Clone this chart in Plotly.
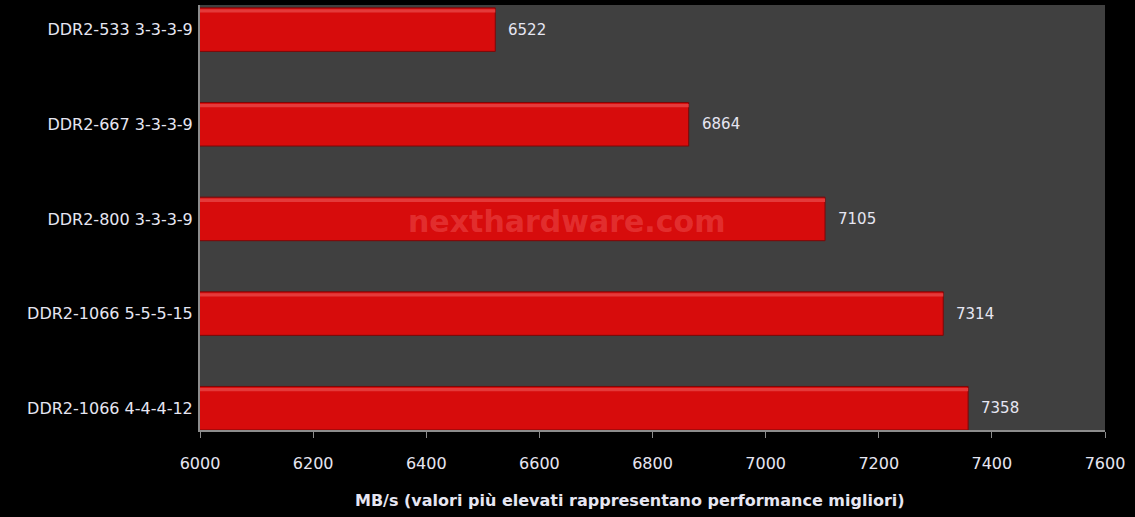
import plotly.graph_objects as go

# Bandbreite DDR2 Speicher (von unten nach oben)
configs = ["DDR2-1066 4-4-4-12", "DDR2-1066 5-5-5-15", "DDR2-800 3-3-3-9",
           "DDR2-667 3-3-3-9", "DDR2-533 3-3-3-9"]
bandwidth = [7358, 7314, 7105, 6864, 6522]
x_ticks = [6000, 6200, 6400, 6600, 6800, 7000, 7200, 7400, 7600]

fig = go.Figure()

# Hauptbalken
fig.add_trace(go.Bar(
    x=bandwidth, y=configs, orientation="h", width=0.46,
    marker=dict(color="#d70c0c", line=dict(color="#7a0808", width=1)),
    hoverinfo="x+y",
))
# heller Streifen oben (3D-Effekt)
fig.add_trace(go.Bar(
    x=bandwidth, y=configs, orientation="h", width=0.035, offset=0.18,
    marker=dict(color="#e43a3a", line=dict(width=0)),
    hoverinfo="skip",
))

# Werte rechts neben den Balken
for v, c in zip(bandwidth, configs):
    fig.add_annotation(x=v, y=c, text=str(v), showarrow=False,
                       xanchor="left", xshift=11,
                       font=dict(family="DejaVu Sans", size=15, color="#e6e6f2"))

# Wasserzeichen
fig.add_annotation(x=0.405, y=0.49, xref="paper", yref="paper",
                   text="<b>nexthardware.com</b>", showarrow=False,
                   font=dict(family="DejaVu Sans", size=30, color="rgba(255,130,130,0.3)"))

# Achsentitel (leicht links versetzt wie im Original)
fig.add_annotation(x=0.475, y=-0.165, xref="paper", yref="paper",
                   text="<b>MB/s (valori più elevati rappresentano performance migliori)</b>",
                   showarrow=False, yanchor="middle",
                   font=dict(family="DejaVu Sans", size=16, color="#e6e6f2"))

fig.update_layout(
    width=1135, height=517,
    margin=dict(l=200, r=30, t=5, b=87),
    paper_bgcolor="black", plot_bgcolor="#404040",
    showlegend=False, barmode="overlay",
    font=dict(family="DejaVu Sans", color="#e6e6f2", size=15),
)
fig.update_xaxes(
    range=[6000, 7600], tickvals=x_ticks, showgrid=False, zeroline=False,
    ticks="outside", ticklen=6, tickcolor="#8c8c8c", ticklabelstandoff=12,
    showline=True, linecolor="#8c8c8c", linewidth=2,
    tickfont=dict(size=16, color="#e6e6f2"),
)
fig.update_yaxes(
    range=[-0.23, 4.26], showgrid=False, ticks="", ticklabelstandoff=2,
    showline=True, linecolor="#8c8c8c", linewidth=2,
    tickfont=dict(size=16, color="#e6e6f2"),
)

fig.write_html("out.html", config={"displayModeBar": False},
               post_script="document.body.style.margin='0';")
